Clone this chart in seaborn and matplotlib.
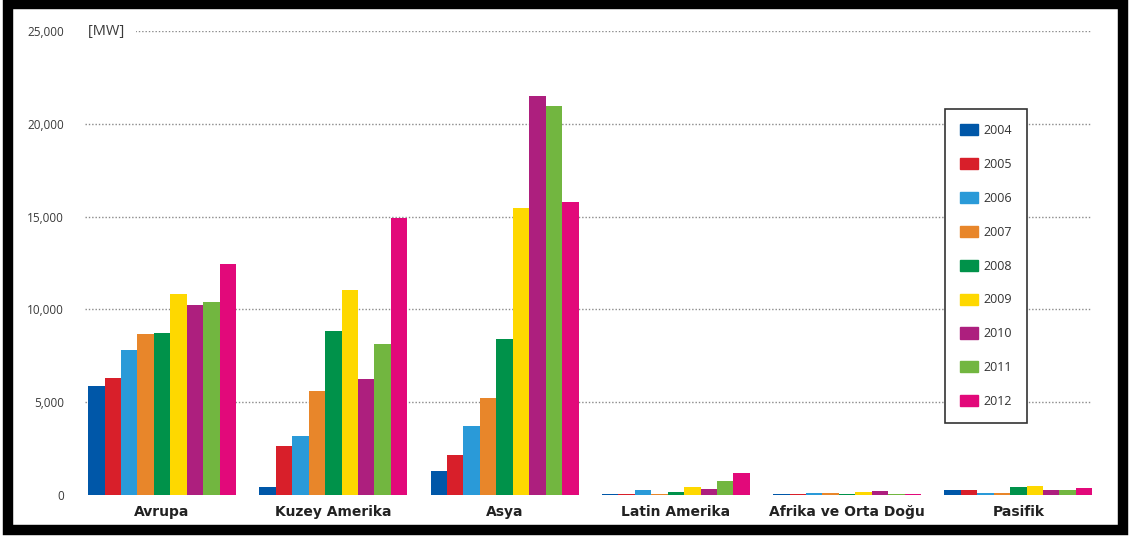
import numpy as np
import pandas as pd
import matplotlib
matplotlib.use("Agg")
import matplotlib.pyplot as plt
import matplotlib.patches as mpatches
import seaborn as sns

regions = ["Avrupa", "Kuzey Amerika", "Asya", "Latin Amerika",
           "Afrika ve Orta Doğu", "Pasifik"]
years = ["2004", "2005", "2006", "2007", "2008", "2009", "2010", "2011", "2012"]

# installed capacity [MW], one list per region, 2004..2012
avrupa = [5870, 6300, 7820, 8650, 8720, 10820, 10260, 10420, 12450]
kuzey_amerika = [430, 2640, 3200, 5600, 8850, 11050, 6250, 8140, 14900]
asya = [1300, 2150, 3700, 5200, 8400, 15460, 21480, 20960, 15800]
latin_amerika = [50, 50, 280, 50, 150, 430, 350, 760, 1170]
afrika_orta_dogu = [50, 50, 100, 100, 50, 150, 200, 50, 50]
pasifik = [280, 280, 120, 120, 450, 500, 280, 280, 380]

year_colors = ["#0057a8", "#d81f2a", "#2a9ad8", "#e8862a", "#00924a",
               "#fed800", "#ad1f7e", "#72b640", "#e2097a"]

values = [avrupa, kuzey_amerika, asya, latin_amerika, afrika_orta_dogu, pasifik]
df = pd.DataFrame(
    [(r, y, v) for r, row in zip(regions, values) for y, v in zip(years, row)],
    columns=["region", "year", "mw"],
)

sns.set_style("white")
plt.rcParams["font.family"] = ["DejaVu Sans"]

W, H = 1132, 536
fig = plt.figure(figsize=(W / 100, H / 100), dpi=100)
ax = fig.add_axes([85 / W, 1 - 495 / H, (1092 - 85) / W, (495 - 31) / H])

sns.barplot(data=df, x="region", y="mw", hue="year", order=regions,
            hue_order=years, palette=year_colors, width=0.864,
            saturation=1, linewidth=0, errorbar=None, ax=ax, legend=False)

ax.set_xlim(-0.45, 5.43)
ax.set_ylim(0, 25000)
ax.set_yticks([0, 5000, 10000, 15000, 20000, 25000])
ax.set_yticklabels(["0", "5,000", "10,000", "15,000", "20,000", "25,000"],
                   fontsize=8.5, color="#3a3a3a", family=["Open Sans", "DejaVu Sans"])
ax.tick_params(axis="y", length=0, pad=15)
ax.tick_params(axis="x", length=0, pad=7)
for lbl in ax.get_xticklabels():
    lbl.set_fontweight("bold")
    lbl.set_fontsize(10)
    lbl.set_color("#222222")
ax.set_xlabel("")
ax.set_ylabel("")
sns.despine(ax=ax, left=True, bottom=True)

ax.set_axisbelow(True)
ax.yaxis.grid(True, color="#8a8a8a", linestyle=(0, (1, 1.4)), linewidth=1.0)
ax.get_ygridlines()[0].set_visible(False)

# unit label, white box hides the start of the top grid line
ax.text(3 / (1092 - 85), 1.0, "[MW]  ", transform=ax.transAxes, ha="left",
        va="center", fontsize=10.5, color="#3a3a3a",
        family=["Open Sans", "DejaVu Sans"],
        bbox=dict(boxstyle="square,pad=0.3", fc="white", ec="none"))

handles = [mpatches.Patch(color=c, label=y) for y, c in zip(years, year_colors)]
leg = fig.legend(handles=handles, loc="upper left",
                 bbox_to_anchor=(945 / W, 1 - 109 / H),
                 bbox_transform=fig.transFigure, borderaxespad=0,
                 frameon=True, fancybox=False, framealpha=1,
                 handlelength=1.45, handleheight=1.0, handletextpad=0.45,
                 labelspacing=1.67, borderpad=1.2,
                 prop={"family": ["Open Sans", "DejaVu Sans"], "size": 9})
leg.get_frame().set_edgecolor("#333333")
leg.get_frame().set_linewidth(1.2)
for t in leg.get_texts():
    t.set_color("#333333")

# thick black frame around the picture
fig.patches.append(mpatches.Rectangle((8 / W, 1 - 529.5 / H), (1123 - 8) / W,
                                      (529.5 - 4) / H, transform=fig.transFigure,
                                      fill=False, ec="black", lw=7.5))

fig.savefig("out.png", dpi=100)
